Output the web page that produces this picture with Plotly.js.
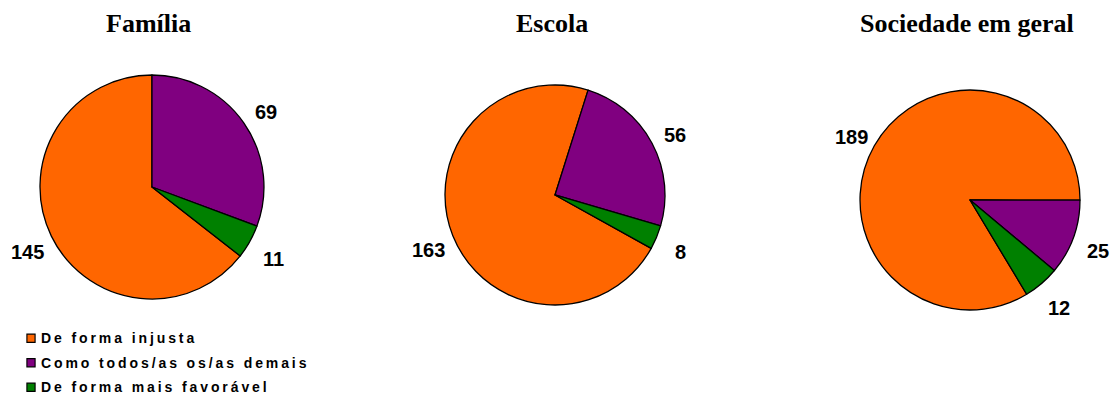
<!DOCTYPE html>
<html>
<head>
<meta charset="utf-8">
<script src="https://cdn.plot.ly/plotly-3.0.1.min.js"></script>
<style>
html,body{margin:0;padding:0;background:#fff;}
#chart{width:1111px;height:394px;}
.legend .legendtext{font-size:14px !important;font-weight:bold !important;letter-spacing:2.9px;}
.legend .legendpoints path{transform:translate(21px,0px) scale(0.68);stroke-width:1.7px !important;stroke:#000 !important;}
.legend .scrollbox{clip-path:none !important;}
</style>
</head>
<body>
<div id="chart"></div>
<script>
const categories = ["De forma injusta", "Como todos/as os/as demais", "De forma mais favorável"];
const titles = ["Família", "Escola", "Sociedade em geral"];
const familia = [145, 69, 11];
const escola = [163, 56, 8];
const sociedade = [189, 25, 12];
const colors = ["#FF6600", "#800080", "#008000"];

const W = 1111, H = 394;
const series = [familia, escola, sociedade];
const rotations = [128, 119, 149];
// pie domains in paper coords
const domains = [
  {x: [0.036, 0.2376], y: [0.2411, 0.8096]},
  {x: [0.4005, 0.5986], y: [0.2259, 0.7843]},
  {x: [0.7741, 0.9721], y: [0.2132, 0.7716]}
];

const traces = series.map((vals, i) => ({
  type: 'pie',
  values: vals,
  labels: categories,
  sort: false,
  direction: 'clockwise',
  rotation: rotations[i],
  marker: {colors: colors, line: {color: '#000', width: 1.3}},
  textinfo: 'none',
  hoverinfo: 'label+value',
  domain: domains[i],
  showlegend: i === 0
}));

const annotations = [];
series.forEach((vals, i) => {
  const d = domains[i];
  const x0 = d.x[0] * W, x1 = d.x[1] * W;
  const y0 = (1 - d.y[1]) * H, y1 = (1 - d.y[0]) * H;
  const cx = (x0 + x1) / 2, cy = (y0 + y1) / 2;
  const r = Math.min(x1 - x0, y1 - y0) / 2;
  const total = vals.reduce((a, b) => a + b, 0);
  let ang = rotations[i];
  vals.forEach((v) => {
    const span = v / total * 360;
    const mid = (ang + span / 2) * Math.PI / 180;
    ang += span;
    const dist = r * 1.24;
    const px = cx + dist * Math.sin(mid);
    const py = cy - dist * Math.cos(mid) + 4;
    annotations.push({
      xref: 'paper', yref: 'paper', x: px / W, y: 1 - py / H,
      text: String(v), showarrow: false,
      xanchor: 'center', yanchor: 'middle',
      font: {family: 'Liberation Sans, Arial, sans-serif', size: 20, color: '#000', weight: 'bold'}
    });
  });
  annotations.push({
    xref: 'paper', yref: 'paper', x: (cx - 3) / W, y: 1 - 23 / H,
    text: '<b>' + titles[i] + '</b>', showarrow: false,
    xanchor: 'center', yanchor: 'middle',
    font: {family: 'Liberation Serif, Times New Roman, serif', size: 26, color: '#000'}
  });
});

const layout = {
  width: W, height: H,
  margin: {l: 0, r: 0, t: 0, b: 0},
  paper_bgcolor: '#fff',
  showlegend: true,
  legend: {
    x: 10 / W, y: 1 - 310 / H, xanchor: 'left', yanchor: 'top',
    font: {family: 'Liberation Sans, Arial, sans-serif', size: 15, color: '#000', weight: 'bold'},
    bgcolor: 'rgba(0,0,0,0)',
    itemwidth: 30
  },
  annotations: annotations
};

Plotly.newPlot('chart', traces, layout, {displayModeBar: false, staticPlot: true}).then(() => {
  document.querySelectorAll('.legend .legendtext').forEach(t => {
    t.setAttribute('transform', 'translate(-9,-1)');
  });
  document.querySelectorAll('.legend .traces').forEach((g, i) => {
    const tr = g.getAttribute('transform') || '';
    const m = tr.match(/translate\(\s*([-\d.]+)[ ,]+([-\d.]+)\s*\)/);
    if (m) {
      const x = parseFloat(m[1]), y = parseFloat(m[2]);
      g.setAttribute('transform', 'translate(' + x + ',' + (y + 12 + 2 * i) + ')');
    }
  });
});
</script>
</body>
</html>
